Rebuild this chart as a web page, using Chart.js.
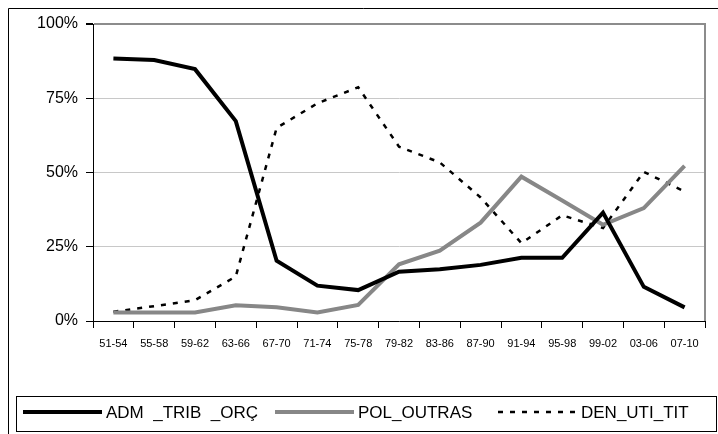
<!DOCTYPE html>
<html>
<head>
<meta charset="utf-8">
<script src="https://cdn.jsdelivr.net/npm/chart.js@4/dist/chart.umd.min.js"></script>
<style>
  html, body { margin: 0; padding: 0; background: #fff; }
  #wrap { width: 718px; height: 434px; position: relative; }
</style>
</head>
<body>
<div id="wrap"><canvas id="grafico"></canvas></div>
<script>
// periodos (quadrienios)
var periodos = ["51-54","55-58","59-62","63-66","67-70","71-74","75-78","79-82",
                "83-86","87-90","91-94","95-98","99-02","03-06","07-10"];

// percentuais por serie
var adm_trib_orc = [88.4, 87.9, 84.8, 67.3, 20.3, 11.9, 10.4, 16.6, 17.4, 18.9, 21.3, 21.3, 36.5, 11.5, 4.6];
var pol_outras   = [2.9, 2.9, 2.9, 5.3, 4.6, 2.9, 5.4, 19.1, 23.7, 33.1, 48.6, 40.6, 32.4, 38.0, 52.2];
var den_uti_tit  = [3.1, 5.0, 7.0, 15.0, 65.0, 73.3, 78.7, 58.7, 53.4, 41.6, 26.2, 35.6, 31.3, 50.2, 43.6];

var yTicks = [0, 25, 50, 75, 100];

var fonte = "'Liberation Sans', Arial, sans-serif";

// moldura externa, borda direita da area do grafico e legenda em caixa
var moldura = {
  id: 'moldura',
  afterDraw: function(chart) {
    var ctx = chart.ctx;
    var a = chart.chartArea;
    ctx.save();
    // borda direita cinza
    ctx.strokeStyle = '#8c8c8c';
    ctx.lineWidth = 2;
    ctx.beginPath();
    ctx.moveTo(a.right, a.top - 1);
    ctx.lineTo(a.right, a.bottom);
    ctx.stroke();

    // moldura do grafico
    ctx.strokeStyle = '#000';
    ctx.lineWidth = 1;
    ctx.beginPath();
    ctx.moveTo(718, 8.5);
    ctx.lineTo(8.5, 8.5);
    ctx.lineTo(8.5, 434);
    ctx.stroke();

    // caixa da legenda
    ctx.strokeRect(16.5, 396.5, 700, 35);

    var slots = [23, 275, 498];
    var yLeg = 412;
    ctx.font = '17px ' + fonte;
    ctx.textBaseline = 'middle';
    ctx.fillStyle = '#000';
    chart.data.datasets.forEach(function(ds, i) {
      var x0 = slots[i];
      ctx.save();
      ctx.strokeStyle = ds.borderColor;
      ctx.lineWidth = ds.borderWidth;
      ctx.setLineDash(ds.borderDash || []);
      ctx.beginPath();
      ctx.moveTo(x0, yLeg);
      ctx.lineTo(x0 + 79, yLeg);
      ctx.stroke();
      ctx.restore();
      ctx.fillText(ds.label, x0 + 83, yLeg + 1);
    });
    ctx.restore();
  }
};

new Chart(document.getElementById('grafico').getContext('2d'), {
  type: 'line',
  data: {
    labels: periodos,
    datasets: [
      {
        label: 'ADM  _TRIB  _ORÇ',
        data: adm_trib_orc,
        borderColor: '#000000',
        borderWidth: 4,
        pointRadius: 0,
        tension: 0,
        borderJoinStyle: 'miter'
      },
      {
        label: 'POL_OUTRAS',
        data: pol_outras,
        borderColor: '#878787',
        borderWidth: 4,
        pointRadius: 0,
        tension: 0,
        borderJoinStyle: 'miter'
      },
      {
        label: 'DEN_UTI_TIT',
        data: den_uti_tit,
        borderColor: '#000000',
        borderWidth: 2.5,
        borderDash: [5, 7],
        pointRadius: 0,
        tension: 0
      }
    ]
  },
  options: {
    responsive: true,
    maintainAspectRatio: false,
    animation: false,
    layout: { padding: { left: 9, right: 13, top: 24, bottom: 0 } },
    plugins: {
      legend: { display: false },
      tooltip: { enabled: false }
    },
    scales: {
      x: {
        offset: true,
        afterFit: function(s) { s.height = 113; },
        grid: {
          offset: true,
          drawOnChartArea: false,
          drawTicks: true,
          tickLength: 7,
          tickColor: '#000'
        },
        border: { color: '#000', width: 1 },
        ticks: {
          color: '#000',
          font: { family: fonte, size: 11 },
          padding: 9,
          maxRotation: 0,
          autoSkip: false
        }
      },
      y: {
        min: 0,
        max: 100,
        afterFit: function(s) { s.width = 84; },
        afterBuildTicks: function(s) {
          s.ticks = yTicks.map(function(v) { return { value: v }; });
        },
        grid: {
          color: function(c) { return c.tick && c.tick.value === 100 ? '#8c8c8c' : '#c8c8c8'; },
          lineWidth: function(c) { return c.tick && c.tick.value === 100 ? 2 : 1; },
          tickColor: '#000',
          tickLength: 7
        },
        border: { color: '#000', width: 1 },
        ticks: {
          color: '#000',
          font: { family: fonte, size: 16 },
          padding: 8,
          callback: function(v) { return v + '%'; }
        }
      }
    }
  },
  plugins: [moldura]
});
</script>
</body>
</html>
